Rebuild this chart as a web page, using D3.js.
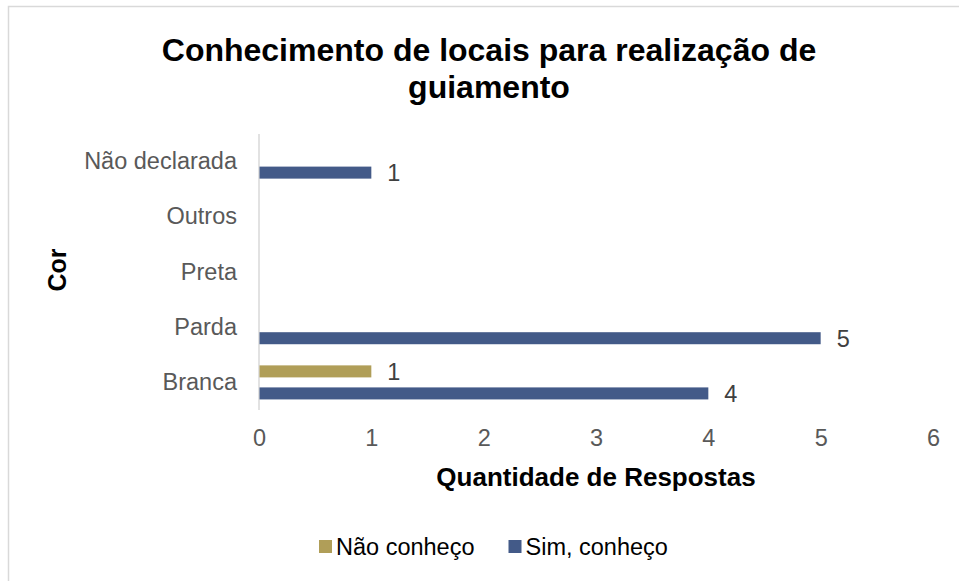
<!DOCTYPE html>
<html><head><meta charset="utf-8">
<script src="https://cdn.jsdelivr.net/npm/d3@7"></script>
<style>body{margin:0;background:#fff}svg{display:block}text{font-family:"Liberation Sans",Arial,sans-serif}</style>
</head><body><svg id="c" width="959" height="581"></svg>
<script>
const categories = ["Não declarada","Outros","Preta","Parda","Branca"];
const seriesNames = ["Não conheço","Sim, conheço"];
const naoConheco = [0,0,0,0,1];
const simConheco = [1,0,0,5,4];
const xTicks = [0,1,2,3,4,5,6];
const colors = ["#B09E58","#435A88"];
const titleLines = ["Conhecimento de locais para realização de","guiamento"];

const FONT = "Liberation Sans, Arial, sans-serif";
const svg = d3.select("#c");
svg.append("rect").attr("x",8.5).attr("y",6.5).attr("width",980).attr("height",600)
  .attr("fill","#fff").attr("stroke","#d9d9d9").attr("stroke-width",1.5);

const x = d3.scaleLinear().domain([0,6]).range([259,933]);
const y = d3.scaleBand().domain(categories).range([134,410]);
const yi = d3.scaleBand().domain(seriesNames).range([0,y.bandwidth()]).paddingInner(0.4545).paddingOuter(0.48);

// title
svg.append("g").selectAll("text").data(titleLines).join("text")
  .attr("x",489).attr("y",(d,i)=>61+i*37).attr("text-anchor","middle")
  .attr("font-size",32).attr("font-weight","bold").attr("fill","#000").text(d=>d);

// axis line
svg.append("line").attr("x1",x(0)).attr("x2",x(0)).attr("y1",134).attr("y2",410)
  .attr("stroke","#d9d9d9").attr("stroke-width",1.5);

// category labels
const yAxis = d3.axisLeft(y).tickSize(0).tickPadding(0);
const gy = svg.append("g").attr("transform",`translate(237,0)`).call(yAxis);
gy.select(".domain").remove();
gy.selectAll("text").attr("font-size",23.5).attr("fill","#595959").attr("font-family",FONT);

// x tick labels
const xAxis = d3.axisBottom(x).tickValues(xTicks).tickSize(0).tickPadding(0).tickFormat(d3.format("d"));
const gx = svg.append("g").attr("transform",`translate(0,429)`).call(xAxis);
gx.select(".domain").remove();
gx.selectAll("text").attr("font-size",23.5).attr("fill","#595959").attr("font-family",FONT);

// bars
const data = [];
categories.forEach((c,i)=>{
  data.push({cat:c, s:seriesNames[0], v:naoConheco[i], col:colors[0]});
  data.push({cat:c, s:seriesNames[1], v:simConheco[i], col:colors[1]});
});
svg.append("g").selectAll("rect").data(data.filter(d=>d.v>0)).join("rect")
  .attr("x",x(0)+0.5).attr("y",d=>y(d.cat)+yi(d.s)).attr("height",yi.bandwidth())
  .attr("width",d=>x(d.v)-x(0)-0.5).attr("fill",d=>d.col);
svg.append("g").selectAll("text").data(data.filter(d=>d.v>0)).join("text")
  .attr("x",d=>x(d.v)+16).attr("y",d=>y(d.cat)+yi(d.s)+yi.bandwidth()/2).attr("dy","0.36em")
  .attr("font-size",23.5).attr("fill","#404040").text(d=>d.v);

// axis titles
svg.append("text").attr("x",(x(0)+x(6))/2).attr("y",486).attr("text-anchor","middle")
  .attr("font-size",26).attr("font-weight","bold").attr("fill","#000").text("Quantidade de Respostas");
svg.append("text").attr("transform",`translate(66,270) rotate(-90)`).attr("text-anchor","middle")
  .attr("font-size",25).attr("font-weight","bold").attr("fill","#000").text("Cor");

// legend
const leg = svg.append("g");
let lx = 319;
seriesNames.forEach((s,i)=>{
  leg.append("rect").attr("x",lx).attr("y",540).attr("width",13).attr("height",13).attr("fill",colors[i]);
  const t = leg.append("text").attr("x",lx+17).attr("y",546.5).attr("dy","0.36em")
    .attr("font-size",23.5).attr("fill","#000").text(s);
  lx += 17 + t.node().getComputedTextLength() + 34;
});
</script></body></html>
